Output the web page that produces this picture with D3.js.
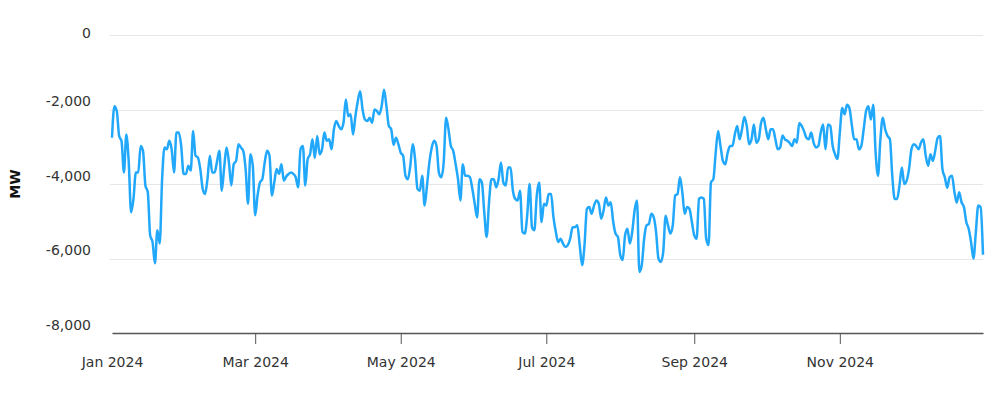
<!DOCTYPE html>
<meta charset="utf-8">
<style>
body { margin: 0; background: #fff; }
svg { display: block; }
.axis text, .ylabels text { font: 14px "DejaVu Sans", sans-serif; fill: #333; }
.grid line { stroke: #e6e6e6; stroke-width: 1; shape-rendering: crispEdges; }
</style>
<svg width="1000" height="393" id="chart"></svg>
<script src="https://d3js.org/d3.v7.min.js"></script>
<script>
// daily net values (MW), 2024
var startDate = new Date(2024, 0, 1);
var jan = [-2760,-1910,-2040,-2710,-2850,-3690,-2670,-3400,-4760,-4400,-3690,-3690,-2980,-3110,-4040,-4220,-5380,-5560,-6130,-5240,-5600,-3870,-3020,-3070,-2840,-3070,-3690,-2620,-2620,-2980,-3730];
var feb = [-3730,-3510,-3640,-2580,-3240,-3290,-3600,-4130,-4270,-3870,-3240,-3690,-3690,-3400,-3110,-4180,-3560,-3020,-3420,-4040,-3470,-3380,-2930,-3020,-3110,-3600,-4530,-3200,-3510];
var mar = [-4840,-4310,-3960,-3870,-3420,-3110,-3240,-4310,-3960,-3600,-3730,-3470,-3910,-3800,-3730,-3690,-3730,-3820,-4090,-3070,-2980,-4040,-3330,-3200,-2800,-3300,-2710,-3200,-3070,-2620,-2840];
var apr = [-2800,-3070,-2530,-2310,-2440,-2530,-2360,-1730,-2180,-2130,-2670,-2180,-1780,-1510,-2000,-2270,-2310,-2220,-2360,-2000,-2040,-2130,-1910,-1470,-1910,-2440,-2530,-2950,-2760,-2930];
var may = [-3160,-3240,-3780,-3870,-3510,-2930,-3330,-4130,-4180,-3780,-4580,-4040,-3420,-3020,-2840,-2980,-3700,-3820,-3420,-2220,-2530,-2980,-3110,-3470,-3870,-4440,-3470,-3780,-3780,-3820,-4130];
var jun = [-4530,-4900,-3870,-3960,-4760,-5420,-4490,-3870,-3870,-4090,-3870,-3420,-3960,-4040,-3560,-3560,-4180,-4400,-4440,-4180,-5290,-5330,-4840,-4000,-5160,-5240,-4310,-3960,-5020,-4530];
var jul = [-4580,-4270,-4270,-4890,-5290,-5560,-5470,-5600,-5690,-5640,-5470,-5160,-5160,-5110,-5640,-6180,-5650,-4670,-4620,-4800,-4580,-4440,-4530,-4930,-4710,-4360,-4580,-4490,-5000,-5330,-5420];
var aug = [-5910,-6040,-5380,-5200,-5600,-5290,-4710,-4440,-6360,-6180,-5470,-5110,-5070,-4800,-4890,-5290,-6000,-6090,-5820,-4850,-5110,-5330,-5110,-4310,-4270,-3820,-4220,-4800,-4620,-4670,-5020];
var sep = [-5380,-5470,-4400,-4360,-4400,-5470,-5640,-3960,-3870,-3150,-2580,-2980,-3380,-3470,-3160,-2980,-2980,-2670,-2440,-2800,-2530,-2200,-2440,-2930,-2800,-2400,-2890,-2800,-2360,-2220];
var oct = [-2530,-2800,-2530,-2530,-2800,-3070,-3020,-2700,-2800,-2840,-2900,-2980,-2800,-2890,-2360,-2440,-2580,-2760,-2800,-2620,-2890,-3020,-2980,-2620,-2400,-3070,-2400,-2440,-2980,-3200,-3330];
var nov = [-2620,-1960,-2130,-1870,-1960,-2400,-2800,-2800,-3070,-2980,-2530,-2040,-1910,-2270,-1870,-3160,-3780,-2800,-2220,-2530,-2710,-2800,-3800,-4400,-4400,-4040,-3560,-4000,-3910,-3600];
var dec = [-3070,-2930,-2980,-3070,-2890,-2800,-3240,-3510,-3200,-3380,-3100,-2760,-2710,-3600,-3820,-4100,-3820,-3780,-4200,-4500,-4220,-4490,-4620,-5020,-5200,-5560,-6000,-5300,-4580,-4620,-5900];

var yTicks = [0, -2000, -4000, -6000, -8000];
var xTickDates = [new Date(2024,0,1), new Date(2024,2,1), new Date(2024,4,1), new Date(2024,6,1), new Date(2024,8,1), new Date(2024,10,1)];
var xTickLabels = ["Jan 2024", "Mar 2024", "May 2024", "Jul 2024", "Sep 2024", "Nov 2024"];
var yTitle = "MW";

var values = [].concat(jan, feb, mar, apr, may, jun, jul, aug, sep, oct, nov, dec);
var data = values.map(function(v, i) {
  return {date: d3.timeDay.offset(startDate, i), value: v};
});

var svg = d3.select("#chart"),
    margin = {top: 35, right: 17, bottom: 60, left: 110},
    width = +svg.attr("width"),
    height = +svg.attr("height");

var x = d3.scaleTime()
    .domain([startDate, new Date(2024, 11, 31)])
    .range([112, width - margin.right]);

var y = d3.scaleLinear()
    .domain([-8000, 0])
    .range([height - margin.bottom, margin.top]);

// plain hyphen for negatives, like the original
var fmt = d3.formatLocale({decimal: ".", thousands: ",", grouping: [3], currency: ["", ""], minus: "-"}).format(",");

// horizontal grid
svg.append("g")
    .attr("class", "grid")
  .selectAll("line")
  .data(yTicks.filter(function(d) { return d !== -8000; }))
  .enter().append("line")
    .attr("x1", margin.left)
    .attr("x2", width - margin.right)
    .attr("y1", function(d) { return Math.round(y(d)) + 0.5; })
    .attr("y2", function(d) { return Math.round(y(d)) + 0.5; });

// y labels (sit a bit above their grid line)
svg.append("g")
    .attr("class", "ylabels")
  .selectAll("text")
  .data(yTicks)
  .enter().append("text")
    .attr("x", 91)
    .attr("y", function(d) { return y(d) - (d === 0 ? 2 : 8); })
    .attr("dy", "0.35em")
    .attr("text-anchor", "end")
    .text(fmt);

svg.append("text")
    .attr("transform", "translate(20," + y(-4000) + ") rotate(-90)")
    .attr("text-anchor", "middle")
    .style("font", "bold 14px 'DejaVu Sans', sans-serif")
    .style("fill", "#111")
    .text(yTitle);

// x axis
var xAxis = svg.append("g")
    .attr("class", "axis")
    .attr("transform", "translate(0," + y(-8000) + ")")
    .call(d3.axisBottom(x)
      .tickValues(xTickDates)
      .tickSize(11)
      .tickSizeOuter(0)
      .tickPadding(13)
      .tickFormat(function(d, i) { return xTickLabels[i]; }));
xAxis.select(".domain").attr("stroke", "#555").attr("stroke-width", 1.5);
xAxis.selectAll(".tick line").attr("stroke", "#555");
xAxis.select(".tick:first-of-type line").remove();

// the series
var line = d3.line()
    .curve(d3.curveMonotoneX)
    .x(function(d) { return x(d.date); })
    .y(function(d) { return y(d.value); });

svg.append("path")
    .datum(data)
    .attr("fill", "none")
    .attr("stroke", "#21a8fb")
    .attr("stroke-width", 2.5)
    .attr("stroke-linejoin", "round")
    .attr("d", line);
</script>
